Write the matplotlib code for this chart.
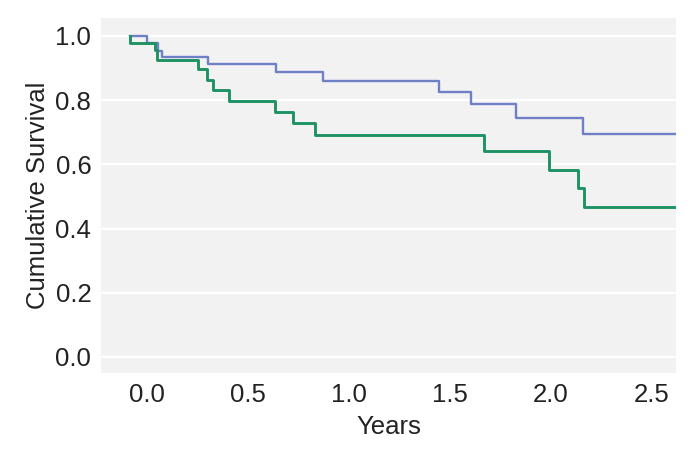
import matplotlib
matplotlib.use("Agg")
import matplotlib.pyplot as plt

plt.rcParams['font.family'] = ['Liberation Sans', 'DejaVu Sans']

# Kaplan-Meier step data (time in years, survival)
blue_t = [-0.084, 0.0, 0.053, 0.073, 0.302, 0.639, 0.870, 1.444, 1.604, 1.827, 2.158, 2.62]
blue_s = [1.0, 0.977, 0.953, 0.934, 0.912, 0.889, 0.860, 0.824, 0.787, 0.743, 0.695, 0.695]

green_t = [-0.084, -0.084, 0.040, 0.048, 0.252, 0.296, 0.327, 0.406, 0.634, 0.723, 0.832,
           1.667, 1.990, 2.134, 2.163, 2.62]
green_s = [1.0, 0.977, 0.956, 0.924, 0.896, 0.863, 0.832, 0.798, 0.764, 0.729, 0.692,
           0.642, 0.583, 0.526, 0.467, 0.467]

x_ticks = [0.0, 0.5, 1.0, 1.5, 2.0, 2.5]
y_ticks = [0.0, 0.2, 0.4, 0.6, 0.8, 1.0]

fig = plt.figure(figsize=(6.98, 4.58), dpi=100)
ax = fig.add_axes([0.1447, 0.1856, 0.8238, 0.7751])
ax.set_facecolor('#f2f2f2')
for s in ax.spines.values():
    s.set_visible(False)

ax.step(blue_t, blue_s, where='post', color='#6f80c4', lw=1.7, zorder=3)
ax.step(green_t, green_s, where='post', color='#1e9262', lw=2.1, zorder=4)

ax.set_xlim(-0.228, 2.62)
ax.set_ylim(-0.05, 1.056)
ax.set_xticks(x_ticks)
ax.set_yticks(y_ticks)
ax.set_xticklabels([f"{v:.1f}" for v in x_ticks])
ax.set_yticklabels([f"{v:.1f}" for v in y_ticks])
ax.yaxis.grid(True, color='white', lw=1.6, zorder=1)
ax.xaxis.grid(False)
ax.set_axisbelow(True)
ax.tick_params(length=0, labelsize=18.5, colors='#222222', pad=7)
ax.set_xlabel('Years', fontsize=18.5, color='#222222', labelpad=6)
ax.set_ylabel('Cumulative Survival', fontsize=18.5, color='#222222', labelpad=4)

fig.savefig('out.png', dpi=100)
